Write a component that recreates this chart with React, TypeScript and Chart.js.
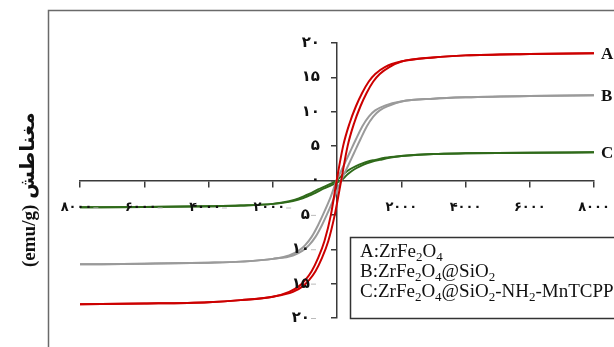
import React, { useEffect, useRef } from "react";
import { Chart, registerables } from "chart.js";
Chart.register(...registerables);

// Field values (Oe) of the two loop branches
const H_DESC = [-8000, -6000, -4000, -3000, -1990, -1490, -1190, -990, -790, -590, -390, -190, -10, 190, 390, 590, 790, 990, 1190, 1490, 1990, 3000, 4000, 6000, 8000];
const H_ASC = [-8000, -6000, -4000, -3000, -2000, -1370, -1070, -870, -670, -470, -270, -70, 130, 330, 530, 730, 930, 1130, 1330, 1630, 2010, 3000, 4000, 6000, 8000];

// Magnetisation (emu/g)
const A_M = [-18.0, -17.9, -17.7, -17.4, -16.9, -16.2, -15.4, -14.5, -13.2, -11.3, -8.8, -5.0, 0, 5.0, 8.3, 10.8, 12.8, 14.4, 15.5, 16.5, 17.3, 17.9, 18.2, 18.4, 18.5];
const B_M = [-12.2, -12.1, -11.95, -11.8, -11.4, -10.9, -10.2, -9.4, -8.2, -6.5, -4.5, -2.3, 0, 2.0, 4.0, 6.0, 7.9, 9.3, 10.2, 10.9, 11.5, 11.9, 12.1, 12.3, 12.4];
const C_M = [-3.9, -3.85, -3.75, -3.65, -3.4, -3.0, -2.6, -2.2, -1.8, -1.3, -0.9, -0.45, 0, 0.9, 1.6, 2.1, 2.5, 2.8, 3.0, 3.3, 3.55, 3.85, 3.95, 4.05, 4.1];

const SERIES_NAMES = ["A", "B", "C"];
const SERIES_COLORS = ["#cc0000", "#9a9a9a", "#2f6a1a"];

const X_TICKS = [-8000, -6000, -4000, -2000, 2000, 4000, 6000, 8000];
const X_TICK_LABELS = ["۸۰۰۰", "۶۰۰۰", "۴۰۰۰", "۲۰۰۰", "۲۰۰۰", "۴۰۰۰", "۶۰۰۰", "۸۰۰۰"];
const Y_TICKS = [20, 15, 10, 5, 0, -5, -10, -15, -20];
const Y_TICK_LABELS = ["۲۰", "۱۵", "۱۰", "۵", "۰", "۵", "۱۰", "۱۵", "۲۰"];

const Y_TITLE_UNIT = "(emu/g)";
const Y_TITLE_WORD = "مغناطش";

type Part = { t: string; sub?: boolean };
const LEGEND_LINES: Part[][] = [
  [{ t: "A:ZrFe" }, { t: "2", sub: true }, { t: "O" }, { t: "4", sub: true }],
  [{ t: "B:ZrFe" }, { t: "2", sub: true }, { t: "O" }, { t: "4", sub: true }, { t: "@SiO" }, { t: "2", sub: true }],
  [
    { t: "C:ZrFe" }, { t: "2", sub: true }, { t: "O" }, { t: "4", sub: true }, { t: "@SiO" }, { t: "2", sub: true },
    { t: "-NH" }, { t: "2", sub: true }, { t: "-MnTCPP" },
  ],
];

const AXIS = "#3a3a3a";
const DIGIT_FONT = 'bold 13px "DejaVu Sans"';
const YDIGIT_FONT = 'bold 15px "DejaVu Sans"';

function pts(h: number[], m: number[]) {
  return h.map((x, i) => ({ x, y: m[i] }));
}

const overlay = {
  id: "overlay",
  beforeDraw(chart: any) {
    const ctx = chart.ctx;
    ctx.save();
    ctx.fillStyle = "#ffffff";
    ctx.fillRect(0, 0, chart.width, chart.height);
    ctx.strokeStyle = "#6a6a6a";
    ctx.lineWidth = 1.5;
    ctx.strokeRect(48.5, 10.5, 700, 400);
    ctx.restore();
  },
  afterDatasetsDraw(chart: any) {
    const ctx = chart.ctx;
    const xs = chart.scales.x;
    const ys = chart.scales.y;
    const axY = ys.getPixelForValue(0);
    const axX = xs.getPixelForValue(0);
    ctx.save();
    // x tick labels
    ctx.font = DIGIT_FONT;
    ctx.textBaseline = "middle";
    ctx.textAlign = "left";
    X_TICKS.forEach((v, i) => {
      const px = xs.getPixelForValue(v);
      const lab = X_TICK_LABELS[i];
      const w = ctx.measureText(lab).width;
      const y = axY + 27;
      if (v < 0) {
        const mw = 7;
        const sx = px - (w + mw) / 2;
        ctx.fillStyle = "#111";
        ctx.fillText(lab, sx, y);
        ctx.fillStyle = "#bbbbbb";
        ctx.fillRect(sx + w + 1, y, 5, 1);
      } else {
        ctx.fillStyle = "#111";
        ctx.fillText(lab, px - w / 2, y);
      }
    });
    // y tick labels
    ctx.font = YDIGIT_FONT;
    Y_TICKS.forEach((v, i) => {
      const py = ys.getPixelForValue(v);
      const lab = Y_TICK_LABELS[i];
      const w = ctx.measureText(lab).width;
      ctx.fillStyle = "#111";
      if (v < 0) {
        const right = axX - 20;
        ctx.fillText(lab, right - 7 - w, py);
        ctx.fillStyle = "#bbbbbb";
        ctx.fillRect(right - 6, py, 5, 1);
      } else {
        ctx.fillText(lab, axX - 17 - w, py);
      }
    });
    // curve letters
    ctx.font = 'bold 17px "Liberation Serif"';
    ctx.fillStyle = "#111";
    [A_M, B_M, C_M].forEach((m, i) => {
      const py = ys.getPixelForValue(m[m.length - 1]);
      ctx.fillText(SERIES_NAMES[i], xs.right + 7, py + 1);
    });
    // y title (reads bottom to top)
    ctx.save();
    ctx.translate(30, 180);
    ctx.rotate(-Math.PI / 2);
    ctx.textAlign = "left";
    ctx.textBaseline = "middle";
    ctx.font = 'bold 19px "Liberation Serif"';
    const we = ctx.measureText(Y_TITLE_UNIT).width;
    ctx.fillText(Y_TITLE_UNIT, -87, 0);
    ctx.font = 'bold 20px "DejaVu Sans"';
    ctx.fillText(Y_TITLE_WORD, -87 + we + 6, -1);
    ctx.restore();
    // legend box
    ctx.fillStyle = "#ffffff";
    ctx.fillRect(350.5, 237.5, 300, 81);
    ctx.strokeStyle = "#333";
    ctx.lineWidth = 1.5;
    ctx.strokeRect(350.5, 237.5, 300, 81);
    ctx.fillStyle = "#111";
    ctx.textBaseline = "alphabetic";
    LEGEND_LINES.forEach((parts, li) => {
      let x = 360;
      const base = 257 + li * 20;
      parts.forEach((p) => {
        ctx.font = p.sub ? '13px "Liberation Serif"' : '19px "Liberation Serif"';
        ctx.fillText(p.t, x, p.sub ? base + 4 : base);
        x += ctx.measureText(p.t).width;
      });
    });
    ctx.restore();
  },
};

export default function App() {
  const ref = useRef<HTMLCanvasElement | null>(null);
  useEffect(() => {
    document.body.style.margin = "0";
    const mk = (label: string, h: number[], m: number[], color: string) => ({
      label,
      data: pts(h, m),
      borderColor: color,
      backgroundColor: color,
      showLine: true,
      borderWidth: 2,
      pointRadius: 0,
      cubicInterpolationMode: "monotone" as const,
      fill: false,
    });
    const chart = new Chart(ref.current as HTMLCanvasElement, {
      type: "scatter",
      data: {
        datasets: [
          mk("A desc", H_DESC, A_M, SERIES_COLORS[0]),
          mk("A asc", H_ASC, A_M, SERIES_COLORS[0]),
          mk("B desc", H_DESC, B_M, SERIES_COLORS[1]),
          mk("B asc", H_ASC, B_M, SERIES_COLORS[1]),
          mk("C desc", H_DESC, C_M, SERIES_COLORS[2]),
          mk("C asc", H_ASC, C_M, SERIES_COLORS[2]),
        ],
      },
      options: {
        responsive: false,
        animation: false,
        layout: { padding: { left: 80, right: 20, top: 43, bottom: 29 } },
        plugins: { legend: { display: false }, tooltip: { enabled: false } },
        scales: {
          x: {
            type: "linear",
            min: -8000,
            max: 8000,
            position: { y: 0 } as any,
            ticks: { display: false, stepSize: 2000 },
            grid: { display: true, drawOnChartArea: false, drawTicks: true, tickLength: 6, color: AXIS, lineWidth: 1.5 },
            border: { display: true, color: AXIS, width: 1.5 },
          },
          y: {
            type: "linear",
            min: -20,
            max: 20,
            position: { x: 0 } as any,
            ticks: { display: false, stepSize: 5 },
            grid: { display: true, drawOnChartArea: false, drawTicks: true, tickLength: 5, color: AXIS, lineWidth: 1.5 },
            border: { display: true, color: AXIS, width: 1.5 },
          },
        },
      },
      plugins: [overlay],
    });
    return () => chart.destroy();
  }, []);
  return (
    <div style={{ width: 614, height: 347 }}>
      <canvas ref={ref} width={614} height={347} />
    </div>
  );
}
